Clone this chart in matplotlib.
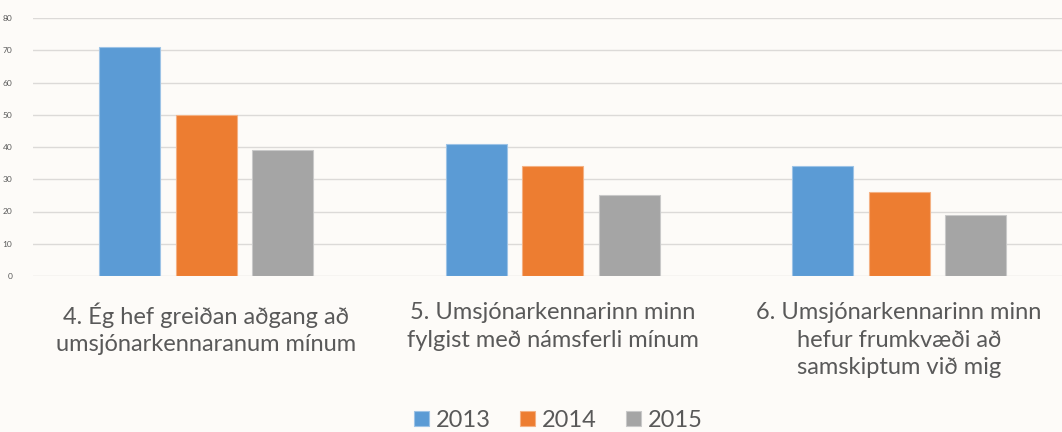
import matplotlib
matplotlib.use('Agg')
import matplotlib.pyplot as plt
import numpy as np

categories = ["4. Ég hef greiðan aðgang að\numsjónarkennaranum mínum",
              "5. Umsjónarkennarinn minn\nfylgist með námsferli mínum",
              "6. Umsjónarkennarinn minn\nhefur frumkvæði að\nsamskiptum við mig"]
years = ["2013", "2014", "2015"]
vals_2013 = [71, 41, 34]
vals_2014 = [50, 34, 26]
vals_2015 = [39, 25, 19]
series = [vals_2013, vals_2014, vals_2015]
colors = ['#5B9BD5', '#ED7D31', '#A5A5A5']
edges = ['#9DC3E6', '#F4B183', '#C9C9C9']

bg = '#FDFBF8'
txt = '#595959'
plt.rcParams['font.family'] = ['Lato', 'DejaVu Sans']

fig = plt.figure(figsize=(10.62, 4.32), dpi=100, facecolor=bg)
ax = fig.add_axes([33/1062, 1-276/432, 1-33/1062, (276-18)/432])
ax.set_facecolor(bg)

x = np.arange(len(categories))
w = 0.176
step = 0.221
for i, (vals, c, ec) in enumerate(zip(series, colors, edges)):
    ax.bar(x + (i-1)*step, vals, width=w, color=c, edgecolor=ec, linewidth=0.8,
           label=years[i], zorder=3)

ax.set_ylim(0, 80)
ax.set_xlim(-0.5, 2.47)
ax.set_yticks(range(0, 81, 10))
ax.tick_params(axis='y', labelsize=6, colors=txt, length=0, pad=15)
ax.yaxis.grid(True, color='#DCDAD8', linewidth=1.0, zorder=0)
ax.set_axisbelow(True)
for s in ax.spines.values():
    s.set_visible(False)

ax.set_xticks(x)
ax.set_xticklabels(categories, fontsize=17, color=txt, linespacing=1.38)
ax.tick_params(axis='x', length=0, pad=19)

leg = fig.legend(loc='lower center', bbox_to_anchor=(0.526, -0.047), ncol=3, frameon=False,
                 fontsize=17, handlelength=0.62, handleheight=0.62, handletextpad=0.3,
                 columnspacing=1.25)
for t in leg.get_texts():
    t.set_color(txt)

fig.savefig('out.png', dpi=100, facecolor=bg)
